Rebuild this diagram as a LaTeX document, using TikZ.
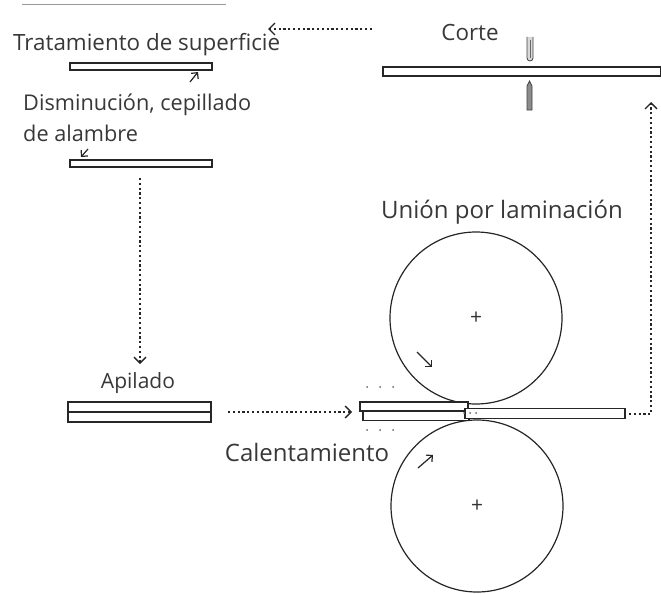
\documentclass[tikz,border=0pt]{standalone}
\usepackage{fontspec}
\setmainfont{Open Sans}
\usetikzlibrary{arrows.meta}
\begin{document}
\begin{tikzpicture}[x=1pt,y=-1pt,
  lbl/.style={font=\fontsize{#1}{#1}\selectfont, text=black!78, inner sep=0pt},
  lbl/.default=22,
  plate/.style={draw=black!85, line width=1.3pt, fill=white, inner sep=0pt},
  flow/.style={dash pattern=on 2.2pt off 2.6pt, line width=1.5pt, draw=black!85,
    -{Straight Barb[length=6pt,width=12pt,line width=1.3pt]}},
  roll/.style={draw=black!85, line width=1.2pt, circle, inner sep=0pt, minimum size=172pt},
  small/.style={line width=1.2pt, draw=black!85, -{Straight Barb[length=4.5pt,width=9pt,line width=1.2pt]}},
  dotmark/.style={fill=black!60, circle, inner sep=0pt, minimum size=2pt},
  cross/.style={font=\fontsize{21}{21}\selectfont, text=black!80, inner sep=0pt}
]
\useasboundingbox (0,0) rectangle (661,594);

% top grey line
\draw[black!40, line width=1pt] (22,5) -- (226,5);

% labels
\node[lbl=22.4, anchor=west] (trat) at (13,45) {Tratamiento de superficie};
\node[lbl=21.7, anchor=west] (dism1) at (23,105) {Disminución, cepillado};
\node[lbl=21.7, anchor=west] (dism2) at (23,133) {de alambre};
\node[lbl=22.4] (corte) at (470,32) {Corte};
\node[lbl=24] (union) at (502,212) {Unión por laminación};
\node[lbl=21] (apil) at (138,383) {Apilado};
\node[lbl=24] (cal) at (307,452) {Calentamiento};

% plates
\node[plate, minimum width=142pt, minimum height=7pt] (b1) at (141,66.5) {};
\node[plate, minimum width=142pt, minimum height=7pt] (b2) at (141,163.5) {};
\node[plate, minimum width=143pt, minimum height=10pt] (s1) at (139.5,407) {};
\node[plate, minimum width=143pt, minimum height=10pt] (s2) at (139.5,417) {};
\node[plate, minimum width=278pt, minimum height=9pt] (cb) at (522,71.5) {};

% small arrows
\draw[small] (190,82) -- (198,72);
\draw[small] (88,149) -- (81,157);

% cutter blades
\draw[black!75, fill=black!15, line width=0.8pt] (527,37) -- (527,58) arc[start angle=180, end angle=360, radius=3pt] -- (533,37);
\draw[black!60, line width=0.8pt] (530,40) -- (530,58);
\draw[black!75, fill=black!45, line width=0.8pt] (527,110) -- (527,86) -- (529.5,81) -- (532,86) -- (532,110) -- cycle;

% rolls
\node[roll] (r1) at (476,318) {};
\node[roll] (r2) at (477,506) {};
\node[cross] (c1) at (r1.center) {+};
\node[cross] (c2) at (r2.center) {+};
\draw[small] (417,352) -- (432,367);
\draw[small] (418,468) -- (433,455);

% strips at the nip
\node[plate, minimum width=108pt, minimum height=9pt] (t1) at (414,406.5) {};
\node[plate, minimum width=106pt, minimum height=9pt] (t2) at (416,416) {};
\node[plate, minimum width=160pt, minimum height=10pt] (t3) at (545,413.5) {};
\foreach \x in {464,470,476} \node[dotmark] at (\x,413) {};

% dots above and below
\foreach \x in {367,380,393} {
  \node[dotmark] at (\x,387) {};
  \node[dotmark] at (\x,430) {};
}

% flow connectors
\coordinate (a1s) at (372,29);
\coordinate (a1e) at (268,29);
\draw[flow] (a1s) -- (a1e);
\coordinate (a2s) at (140,178);
\coordinate (a2e) at (140,364);
\draw[flow] (a2s) -- (a2e);
\coordinate (a3s) at (228,412);
\coordinate (a3e) at (352,412);
\draw[flow] (a3s) -- (a3e);
\coordinate (a4s) at (629,414);
\coordinate (a4c) at (651,414);
\coordinate (a4e) at (651,102);
\draw[flow] (a4s) -- (a4c) -- (a4e);
\end{tikzpicture}
\end{document}
